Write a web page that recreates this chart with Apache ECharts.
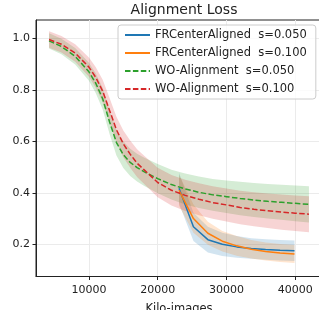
<!DOCTYPE html>
<html>
<head>
<meta charset="utf-8">
<script src="https://cdn.jsdelivr.net/npm/echarts@6/dist/echarts.min.js"></script>
<style>
  html, body { margin: 0; padding: 0; background: #fff; overflow: hidden; }
  #chart { width: 319px; height: 310px; }
</style>
</head>
<body>
<div id="chart"></div>
<script>
// x positions (kilo-images)
var woX = [4200, 6000, 8000, 10000, 11000, 12000, 13000, 14000, 15000, 16000, 17000, 18000, 20000, 22000, 24000, 26000, 28000, 30000, 32000, 34000, 36000, 38000, 40000, 42000];
var frcX = [23100, 25200, 27300, 29400, 31500, 33600, 35700, 37800, 39900];

// mean values
var wo050 = [0.99, 0.968, 0.93, 0.87, 0.825, 0.765, 0.675, 0.595, 0.548, 0.518, 0.498, 0.482, 0.455, 0.432, 0.415, 0.402, 0.392, 0.385, 0.378, 0.372, 0.367, 0.363, 0.359, 0.355];
var wo100 = [0.995, 0.977, 0.943, 0.888, 0.848, 0.795, 0.72, 0.645, 0.59, 0.55, 0.515, 0.49, 0.44, 0.41, 0.39, 0.375, 0.362, 0.353, 0.343, 0.336, 0.330, 0.325, 0.321, 0.317];
var frc050 = [0.418, 0.268, 0.218, 0.200, 0.190, 0.184, 0.180, 0.177, 0.175];
var frc100 = [0.41, 0.300, 0.243, 0.212, 0.194, 0.181, 0.172, 0.166, 0.162];

// spread (half width of shaded band)
var wo050Std = [0.03, 0.03, 0.032, 0.035, 0.038, 0.042, 0.047, 0.05, 0.052, 0.053, 0.054, 0.055, 0.057, 0.058, 0.06, 0.061, 0.062, 0.063, 0.065, 0.066, 0.067, 0.068, 0.069, 0.07];
var wo100Std = [0.032, 0.032, 0.034, 0.037, 0.04, 0.044, 0.048, 0.05, 0.052, 0.053, 0.054, 0.055, 0.057, 0.059, 0.061, 0.062, 0.063, 0.064, 0.065, 0.066, 0.067, 0.068, 0.069, 0.07];
var frc050Std = [0.06, 0.055, 0.05, 0.045, 0.042, 0.04, 0.04, 0.04, 0.04];
var frc100Std = [0.06, 0.055, 0.045, 0.04, 0.038, 0.036, 0.035, 0.035, 0.035];

var xTicks = [10000, 20000, 30000, 40000];
var yTicks = [0.2, 0.4, 0.6, 0.8, 1.0];

var runs = [
  { name: 'FRCenterAligned  s=0.050', x: frcX, y: frc050, sd: frc050Std, color: '#1f77b4', dash: 'solid' },
  { name: 'FRCenterAligned  s=0.100', x: frcX, y: frc100, sd: frc100Std, color: '#ff7f0e', dash: 'solid' },
  { name: 'WO-Alignment  s=0.050', x: woX, y: wo050, sd: wo050Std, color: '#2ca02c', dash: [5.5, 2.4] },
  { name: 'WO-Alignment  s=0.100', x: woX, y: wo100, sd: wo100Std, color: '#d62728', dash: [5.5, 2.4] }
];

var series = [];
// shaded bands: one polygon per run, built through api.coord
runs.forEach(function (r) {
  series.push({
    type: 'custom', silent: true, z: 1,
    data: [[r.x[0], r.y[0]]],
    renderItem: function (params, api) {
      var pts = [];
      for (var k = 0; k < r.x.length; k++) pts.push(api.coord([r.x[k], r.y[k] + r.sd[k]]));
      for (var k2 = r.x.length - 1; k2 >= 0; k2--) pts.push(api.coord([r.x[k2], r.y[k2] - r.sd[k2]]));
      return {
        type: 'polygon',
        shape: { points: pts },
        style: { fill: r.color, opacity: 0.2 }
      };
    }
  });
});
runs.forEach(function (r) {
  series.push({
    name: r.name, type: 'line', symbol: 'none', z: 3,
    data: r.x.map(function (x, k) { return [x, r.y[k]]; }),
    itemStyle: { color: r.color },
    lineStyle: { color: r.color, width: 1.5, type: r.dash }
  });
});

var chart = echarts.init(document.getElementById('chart'), null, { renderer: 'canvas' });
chart.setOption({
  animation: false,
  title: {
    text: 'Alignment Loss', left: 179, top: -2, textAlign: 'center',
    textStyle: { fontFamily: 'DejaVu Sans', fontSize: 14, fontWeight: 'normal', color: '#222' }
  },
  legend: {
    data: runs.map(function (r) { return r.name; }),
    orient: 'vertical', left: 118, top: 25,
    itemWidth: 25, itemHeight: 10, itemGap: 6,
    padding: [4, 9, 4, 6],
    backgroundColor: 'rgba(255,255,255,0.8)',
    borderColor: '#ccc', borderWidth: 1, borderRadius: 3,
    itemStyle: { opacity: 0 },
    textStyle: { fontFamily: 'DejaVu Sans', fontSize: 11.5, color: '#222' }
  },
  grid: {
    left: 36, top: 20, width: 286, height: 256.5, outerBoundsMode: 'none',
    show: true, borderColor: '#222', borderWidth: 1
  },
  xAxis: {
    type: 'value', min: 2300, max: 43900,
    name: 'Kilo-images', nameLocation: 'middle', nameGap: 27,
    nameTextStyle: { fontFamily: 'DejaVu Sans', fontSize: 11.5, color: '#222' },
    axisLine: { lineStyle: { color: '#222' } },
    axisTick: { customValues: xTicks, length: 3.5, lineStyle: { color: '#222' } },
    axisLabel: {
      customValues: xTicks, margin: 8, fontFamily: 'DejaVu Sans', fontSize: 11, color: '#222',
      formatter: function (v) { return String(v); }
    },
    splitLine: { show: true, lineStyle: { color: '#ebebeb' } }
  },
  yAxis: {
    type: 'value', min: 0.075, max: 1.071,
    axisLine: { show: true, lineStyle: { color: '#222' } },
    axisTick: { show: true, customValues: yTicks, length: 3.5, lineStyle: { color: '#222' } },
    axisLabel: {
      customValues: yTicks, margin: 6, fontFamily: 'DejaVu Sans', fontSize: 11, color: '#222',
      formatter: function (v) { return v.toFixed(1); }
    },
    splitLine: { show: true, lineStyle: { color: '#ebebeb' } }
  },
  series: series
});
</script>
</body>
</html>
